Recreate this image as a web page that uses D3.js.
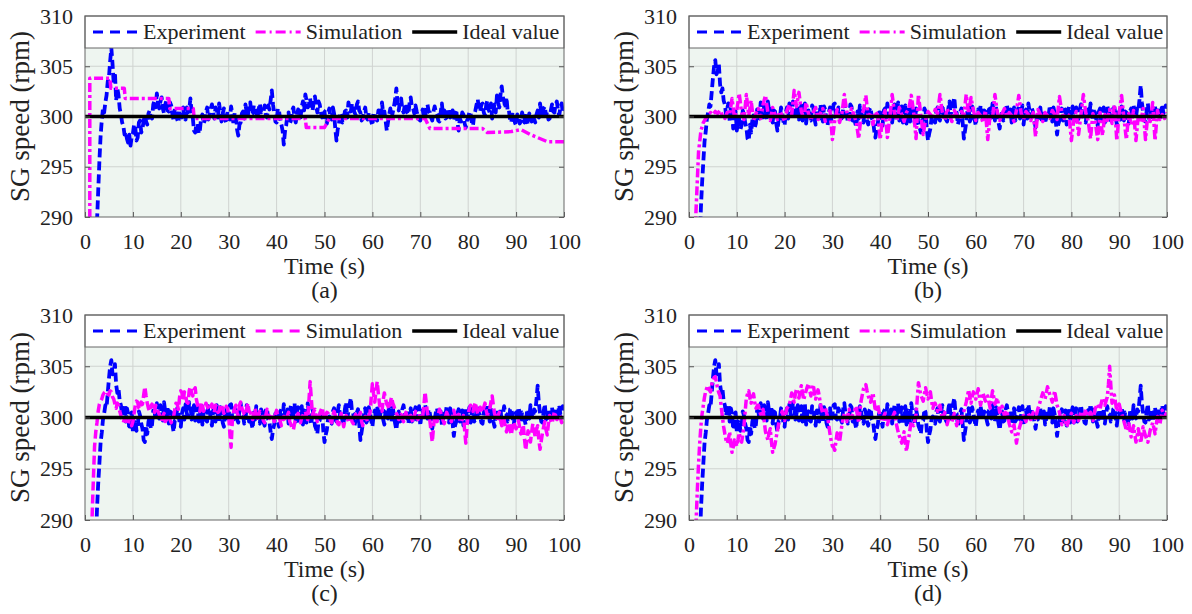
<!DOCTYPE html>
<html>
<head>
<meta charset="utf-8">
<script src="https://cdnjs.cloudflare.com/ajax/libs/d3/7.8.5/d3.min.js"></script>
<style>
body { margin: 0; background: #fff; }
text { font-family: "Liberation Serif", "Times New Roman", serif; fill: #222; }
</style>
</head>
<body>
<div id="chart"></div>
<script>
// SG speed: experiment vs simulation, four cases

// sampling of the dense series (seconds); *_mid arrays sit half a step later
var exp_start = 2, sim_start = 1, step = 0.5;

// experiment, case (a), t = 2 .. 100
var exp_a = [
	283, 289.5, 295.5, 299.6, 300.4, 302.1, 303.9, 306.8, 303.2, 301.6,
	302.1, 300.2, 299.1, 298.5, 297.4, 297.1, 298.3, 298.9, 297.9, 299.6,
	298.8, 300.1, 299.2, 300.6, 299.8, 301.6, 302.3, 300.8, 301.9, 300.3,
	301.6, 300.5, 301.1, 299.6, 300.5, 299.4, 300.3, 300.9, 299.7, 300.4,
	301.8, 299.9, 298.4, 299.3, 298.7, 300.2, 299.6, 300.9, 300.1, 301.2,
	299.8, 300.6, 301.3, 299.5, 300.8, 299.3, 300.4, 301, 299.2, 300.3,
	298.1, 299.4, 300.5, 301.2, 300.1, 301.4, 300.3, 300.9, 299.8, 301.3,
	300.5, 301.1, 299.9, 300.7, 302.6, 300.3, 299.4, 300.6, 299.2, 297.2,
	299.1, 300.4, 299.6, 300.9, 299.4, 300.7, 299.9, 301.5, 302.2, 300.9,
	301.8, 300.6, 302, 300.4, 301.2, 299.9, 300.5, 299.3, 300.8, 299.7,
	300.3, 297.6, 299.2, 300.1, 299.5, 300.6, 301.4, 300.5, 301, 300.2,
	301.5, 300.4, 299.8, 300.9, 299.7, 300.3, 299.1, 300.2, 299.6, 300.4,
	301.4, 300.5, 298.6, 300.2, 299.9, 301, 302.8, 300.6, 301.8, 300.4,
	301.3, 300.2, 301.9, 300.8, 301.1, 300, 299.6, 300.7, 299.8, 301.2,
	300.4, 299.6, 301, 300.2, 299.5, 301.3, 300.6, 299.9, 300.8, 300.1,
	299.6, 300.7, 298.6, 299.5, 300.2, 298.9, 299.8, 300.3, 299.1, 300.6,
	301.7, 300.5, 301.3, 300.1, 301.6, 300.4, 299.8, 301.2, 302.1, 300.9,
	303, 301.5, 301.9, 300.6, 299.4, 300.2, 299.1, 300, 299.5, 299.9,
	300.4, 299.2, 299.8, 300.3, 299.4, 300.6, 301.3, 300.2, 301, 300.5,
	299.8, 301.2, 300.4, 301.5, 300.1, 301.3, 300.8
];
var exp_a_mid = [
	286, 292.5, 298, 300.8, 301.4, 303.5, 305.5, 305.2, 304.4, 302.8,
	300.8, 299.4, 298.2, 297.8, 298.2, 298, 299.2, 297.6, 299.4, 298.4,
	299.6, 299.5, 300.3, 299.9, 301.2, 300.9, 301.3, 301.5, 300.8, 301.2,
	300.6, 301.4, 300.2, 300.8, 299.7, 300.6, 299.9, 299.8, 300.9, 300.6,
	300.5, 298.6, 299.2, 298.3, 299.9, 299.3, 300.5, 299.7, 300.8, 300.5,
	300.9, 299.9, 300.4, 300.3, 299.7, 300.5, 299.7, 300.3, 300.4, 298.7,
	299.2, 300.3, 299.8, 300.4, 300.9, 300.2, 301.1, 300.4, 300.7, 300.4,
	300.4, 300.2, 301.1, 301.6, 301.2, 299.5, 300.8, 299.7, 298.6, 298.5,
	300.2, 299.3, 300.6, 299.8, 300.2, 300.4, 301, 300.6, 301.6, 301.3,
	300.7, 301.4, 301.1, 301.5, 300.4, 300.6, 299.4, 300.4, 299.8, 300.9,
	298.8, 298.7, 300.4, 299.4, 300.5, 299.9, 300.7, 301.3, 300.4, 301.2,
	300.6, 299.6, 300.5, 299.9, 300.4, 299.5, 300.4, 299.7, 300.6, 299.8,
	300.3, 299.6, 299.4, 300.8, 300.4, 301.7, 301.3, 301.5, 300.7, 301.1,
	300.4, 301.3, 300.9, 300.3, 300.5, 299.7, 300.3, 299.9, 300.9, 300.5,
	299.9, 300.5, 300.4, 299.6, 300.4, 300.1, 299.8, 300.7, 299.9, 300.6,
	300.3, 299.4, 299.8, 300.4, 299.3, 299.6, 300.5, 299.4, 300.2, 301.2,
	300.6, 301.2, 300.4, 301.1, 300.7, 301.3, 300.6, 300.4, 301.4, 302.2,
	301.9, 300.8, 300.5, 299.6, 300.4, 299.4, 300.2, 299.3, 300.4, 299.4,
	299.6, 300.3, 299.5, 299.8, 300.2, 299.9, 300.4, 300.8, 300.1, 299.7,
	300.6, 300.5, 301.2, 300.6, 300.9, 300.4
];

// experiment, cases (b) (c) (d) share the same run, t = 2 .. 100
var exp_bcd = [
	284, 291, 295.5, 298.5, 300.4, 301, 303.8, 305.6, 304.5, 303.2,
	302.8, 301.2, 300.8, 299.6, 300.4, 299.2, 298.6, 299.8, 299.1, 300.2,
	298.9, 297.6, 298.4, 300.1, 299.3, 300.6, 301.4, 299.9, 300.8, 301.5,
	300.2, 299.4, 300.5, 298.6, 299.8, 300.3, 299.1, 300.9, 301.3, 300.1,
	301.4, 300.4, 299.7, 301.1, 300.2, 299.3, 300.6, 299.6, 300.9, 299.2,
	300.4, 301.2, 299.5, 300.7, 299.1, 300.9, 300.3, 301.3, 299.8, 300.6,
	299.5, 301.4, 300.2, 299.7, 301, 300.1, 298.9, 299.8, 300.7, 299.4,
	300.5, 299.2, 300.9, 299.6, 297.9, 299.3, 300.4, 299.1, 300.8, 301.3,
	300, 299.4, 301.2, 300.3, 299.6, 301, 300.2, 299.3, 300.6, 301.4,
	299.9, 300.8, 299.2, 298.4, 299.7, 300.5, 297.6, 298.8, 300.1, 299.4,
	300.9, 299.6, 301.2, 300.3, 299.5, 301.5, 300.6, 301.9, 300.4, 299.7,
	300.8, 297.8, 299.4, 300.9, 299.8, 300.4, 299.1, 300.7, 301.1, 299.9,
	300.5, 299.3, 300.8, 301.3, 299.6, 300.2, 298.8, 300.6, 299.7, 301.2,
	300, 299.4, 300.9, 299.8, 301, 300.3, 299.2, 300.7, 301.3, 299.9,
	300.4, 298.9, 299.8, 300.9, 300.1, 299.3, 300.6, 301.1, 299.5, 300.3,
	298.2, 299.6, 300.8, 300, 299.2, 301, 300.4, 299.5, 300.9, 299.8,
	301.2, 300.1, 299.4, 300.7, 301.3, 299.6, 300.2, 299.1, 300.8, 300,
	299.4, 301.1, 300.3, 299.7, 300.9, 299.2, 300.5, 301, 299.6, 300.4,
	299.3, 300.8, 301.2, 299.9, 300.6, 303.1, 300.4, 299.5, 301.3, 300.2,
	299.6, 301, 300.3, 299.7, 301.2, 300.5, 300.9
];
var exp_bcd_mid = [
	287.5, 293.5, 297.5, 299.8, 301.2, 302.4, 305, 304.2, 305.2, 302.4,
	301.6, 300.2, 301.3, 300.9, 298.8, 300.5, 299.6, 298.7, 300.6, 299.4,
	297.8, 299.2, 299.6, 298.9, 300.7, 299.8, 300.4, 301.2, 299.7, 300.6,
	301.1, 300.6, 299.3, 299.7, 300.9, 299.5, 300.4, 299.8, 300.4, 301.5,
	299.8, 301.2, 300.5, 299.6, 301.3, 300.4, 299.7, 301.1, 299.8, 300.7,
	299.6, 300.2, 301, 299.5, 300.4, 299.7, 301.2, 299.9, 300.9, 299.8,
	300.8, 300.3, 299.4, 301.2, 299.6, 299.4, 300.5, 301.1, 299.6, 300.8,
	299.6, 300.7, 299.8, 298.6, 298.8, 300.4, 299.7, 300.6, 299.9, 300.4,
	300.8, 300.5, 299.9, 301.4, 300.5, 299.4, 301.1, 300.7, 299.5, 300.4,
	299.3, 300.2, 298.9, 299.6, 300.8, 298.7, 298.3, 299.9, 299.5, 300.6,
	299.8, 300.6, 300.1, 299.7, 300.8, 299.9, 301.3, 300.5, 299.2, 300.5,
	299.4, 298.6, 300.6, 299.5, 301, 299.7, 300.2, 299.8, 300.4, 300.6,
	299.8, 300.7, 299.9, 300.4, 301, 299.4, 299.8, 299.6, 300.8, 300.4,
	300.7, 300.2, 299.6, 300.6, 299.8, 301.1, 300.4, 299.8, 300.5, 300.8,
	299.6, 299.8, 300.5, 299.7, 300.6, 299.9, 300.2, 300.5, 300.9, 299.4,
	299.2, 300.4, 299.6, 300.7, 300.3, 299.5, 301, 300.3, 299.6, 300.7,
	300.4, 299.5, 300.5, 300.1, 300.4, 300.8, 299.6, 300.5, 299.6, 300.9,
	300.3, 300.4, 299.6, 300.8, 300.1, 300.3, 299.7, 300.4, 300.5, 299.8,
	300.5, 299.9, 300.3, 300.8, 301.7, 301.4, 299.6, 300.6, 299.8, 300.8,
	300.4, 299.8, 300.9, 300.4, 300.3, 301.1
];

// simulation (a) is a staircase, so it keeps its own time stamps
var sim_a_time = [0, 1.0, 1.0, 5.2, 5.4, 8.2, 8.4, 17.5, 17.7, 22.6, 22.8, 46, 46.2, 50, 51, 71, 72, 83, 84, 89, 91, 93, 96.5, 100];
var sim_a = [285, 285, 303.8, 303.8, 302.8, 302.8, 301.8, 301.8, 300.8, 300.8, 299.8, 299.8, 298.9, 298.9, 299.8, 299.8, 298.8, 298.8, 298.4, 298.5, 298.7, 298.2, 297.5, 297.5];

// simulation (b), t = 1 .. 100
var sim_b = [
	285, 291, 296.5, 298.6, 299.4, 299.8, 300.1, 300.4, 300.2, 300.5,
	300.3, 300.6, 300.1, 299.8, 300.4, 300.2, 301.8, 299.9, 300.6, 302.3,
	300.4, 299.7, 302.2, 300.1, 301.6, 299.6, 300.3, 300.8, 299.8, 301.2,
	302.1, 300.4, 299.6, 300.9, 300.2, 299.7, 300.5, 300.1, 299.5, 300.6,
	301.2, 300.2, 302.6, 301, 302.4, 300.5, 299.8, 301.4, 300.3, 299.6,
	300.4, 300.9, 299.7, 300.3, 300.8, 299.5, 300.2, 300.6, 297.7, 299.6,
	300.7, 299.4, 300.3, 302.2, 300.5, 299.7, 300.8, 300.2, 299.4, 297.8,
	300.1, 300.6, 302.1, 299.9, 300.4, 299.2, 300.5, 300.1, 297.7, 299.8,
	300.6, 297.9, 299.8, 302.2, 300.3, 299.6, 300.9, 300.2, 299.5, 300.4,
	300.8, 302.1, 300.4, 297.8, 302.2, 300.1, 298.2, 299.7, 300.5, 300.2,
	299.8, 300.7, 300.3, 302.2, 300.4, 299.6, 300.8, 300.1, 299.5, 300.6,
	300.2, 299.7, 300.5, 300.1, 302.2, 300.3, 301.9, 300.6, 299.6, 300.4,
	300.1, 299.4, 300.6, 297.7, 300.2, 299.8, 302.2, 300.4, 299.6, 300.3,
	300.8, 299.9, 300.4, 300.1, 299.5, 300.6, 302.1, 300.3, 299.7, 300.5,
	300.2, 299.6, 300.4, 298, 300.7, 300.2, 299.5, 300.4, 300.1, 299.8,
	300.6, 300.2, 299.7, 302, 300.4, 299.8, 300.3, 300.1, 297.6, 299.7,
	300.5, 298.2, 300.2, 302.2, 300.4, 299.6, 297.8, 300.3, 299.4, 297.7,
	300.4, 298.1, 300.2, 299.6, 300.7, 299.3, 301.2, 297.6, 300.4, 302.1,
	299.8, 297.7, 300.3, 299.2, 300.6, 297.6, 300.1, 299.4, 300.8, 297.7,
	300.3, 299.5, 301.4, 297.6, 300.6, 299.7, 300.2, 299.8, 300.4
];

// simulation (c), t = 1 .. 100
var sim_c = [
	284, 290.5, 297.2, 299.5, 301.3, 301.8, 302.4, 302.6, 302.2, 302.5,
	301.8, 300.9, 301.2, 300.2, 299.5, 299.8, 299.3, 300, 299.6, 301.2,
	301.5, 300.8, 301.3, 303, 301.4, 300.6, 301.3, 300.5, 301, 300.3,
	299.6, 300.4, 299.8, 300.2, 299.5, 300.1, 301.4, 300.8, 302.6, 301.6,
	302.2, 301.4, 303, 302.1, 302.9, 301.2, 300.6, 301.3, 300.8, 301.1,
	300.7, 301.3, 300.5, 301, 300.6, 301.2, 300.4, 301.1, 300.2, 297.1,
	300.5, 301.2, 300.1, 301.5, 300.6, 300.2, 301.4, 300.5, 299.8, 300.9,
	299.7, 300.6, 300.1, 299.5, 300.8, 299.9, 300.4, 299.6, 300.7, 300.1,
	299.2, 300.1, 299.6, 300.5, 299.3, 298.8, 299.9, 300.4, 299.5, 300.2,
	300.6, 299.8, 303.5, 300.2, 300.8, 299.6, 300.3, 301, 299.7, 300.5,
	300.1, 299.5, 300.6, 299.9, 299.3, 300.4, 299.1, 300.2, 299.6, 300,
	299.4, 300.3, 299.7, 300.5, 299.2, 300.1, 299.6, 300.4, 303.3, 301.5,
	303.5, 301.2, 300.6, 302.4, 301.3, 300.8, 302, 301.1, 300.4, 299.8,
	300.3, 299.6, 300.5, 299.9, 300.2, 299.5, 300.6, 299.8, 300.3, 300.1,
	302.5, 300.4, 299.7, 297.6, 300.2, 299.6, 300.8, 300.1, 299.4, 300.5,
	300, 299.6, 300.7, 299.8, 300.3, 299.5, 300.2, 297.5, 300.4, 301.2,
	300.6, 301.5, 300.3, 301, 300.5, 301.4, 300.2, 300.8, 302.1, 300.4,
	299.7, 300.5, 299.2, 299.8, 298.6, 299.5, 298.3, 299.6, 298.9, 299.7,
	298.4, 299.3, 296.8, 298.7, 297.6, 299.4, 298.1, 299.2, 296.9, 298.5,
	299.6, 298.3, 300.2, 299.4, 300.6, 299.8, 300.3, 299.5, 300.1
];
var sim_c_mid = [
	287, 294, 298.6, 300.6, 301.6, 302.2, 302.5, 302.3, 302.6, 302,
	301.3, 301.4, 300.6, 299.7, 299.9, 299.4, 299.8, 299.2, 300.4, 301.6,
	300.9, 301.5, 302.2, 302.1, 300.9, 301.1, 300.7, 301.2, 300.6, 299.8,
	300.1, 299.6, 300.3, 299.8, 299.9, 300.8, 301.3, 302, 302.4, 302.5,
	301.5, 302.6, 302.4, 302.7, 301.8, 300.9, 301.5, 300.6, 301.4, 300.9,
	301.1, 300.7, 301.2, 300.5, 301.3, 300.8, 300.6, 300.9, 298.4, 299.6,
	300.9, 300.5, 301.2, 300.9, 300.3, 300.9, 300.6, 300.2, 300.5, 300.1,
	300.3, 300.4, 299.7, 300.2, 300.4, 300.2, 300.1, 300.3, 300.2, 299.6,
	299.7, 299.8, 300.2, 299.6, 298.9, 299.4, 300.2, 299.8, 300, 300.5,
	300.1, 301.6, 301.8, 300.6, 300.1, 300.1, 300.7, 300.3, 300.2, 300.4,
	299.7, 300.2, 300.2, 299.4, 299.9, 299.7, 299.7, 300, 299.8, 299.6,
	300, 299.9, 300.2, 299.6, 299.8, 299.9, 300.2, 301.9, 302.3, 302.6,
	302.3, 300.8, 301.7, 301.8, 301.1, 301.5, 301.4, 300.7, 300.2, 300.1,
	299.9, 300.2, 300.1, 300.1, 299.8, 300.1, 300.2, 300.1, 300.2, 301.2,
	301.4, 300, 298.6, 299, 299.8, 300.3, 300.5, 299.7, 300, 300.2,
	299.8, 300.2, 300.2, 300.1, 299.8, 299.8, 298.8, 299.1, 300.9, 300.8,
	301.1, 300.8, 300.7, 300.7, 301, 300.7, 300.6, 301.5, 301.2, 300,
	300.2, 299.8, 299.6, 299.1, 299.2, 298.8, 299.1, 299.2, 299.3, 299,
	298.9, 297.9, 297.8, 298.2, 298.6, 298.7, 298.8, 297.8, 297.7, 299.1,
	298.8, 299.4, 299.7, 300, 300.2, 299.9, 300, 299.8
];

// simulation (d), t = 1 .. 100
var sim_d = [
	284, 290, 295.5, 299.2, 301.2, 302.6, 303.1, 302.5, 303.6, 304,
	302.8, 302.1, 300, 298.4, 297.5, 298.6, 296.6, 297.8, 297.2, 298.5,
	297.6, 299.2, 301.9, 302.6, 301.4, 302.3, 300.9, 301.2, 300.3, 300.8,
	298.6, 297.8, 298.9, 296.6, 297.4, 298.7, 299.8, 300.6, 299.7, 300.9,
	301.2, 302.4, 301.5, 302.8, 301.9, 303.1, 301.7, 302.6, 303.3, 302.1,
	303.2, 301.8, 302.7, 301.3, 300.4, 301, 300.1, 298.4, 297.2, 296.8,
	298.5, 297.6, 299.3, 300.4, 299.6, 300.8, 299.9, 300.6, 301.1, 299.5,
	301.6, 302.8, 303.2, 302.1, 301.5, 302.4, 300.6, 301.2, 300.1, 299.6,
	300.4, 299.3, 300.2, 299.7, 300.5, 299.1, 298.2, 297.5, 298.6, 296.7,
	298.1, 299.6, 299.2, 300.3, 303.4, 302.2, 301.6, 302.9, 301.8, 302.5,
	300.9, 301.4, 300.6, 301.2, 299.8, 300.5, 299.3, 300.2, 299.6, 300.4,
	299.2, 300.1, 299.5, 300.6, 301.5, 302.7, 301.4, 302.5, 301.8, 302.8,
	301.2, 302.4, 301.6, 302.1, 300.9, 302.6, 301.3, 301.9, 300.5, 301.1,
	300.2, 300.7, 299.4, 298.6, 299.3, 297.5, 298.8, 299.6, 300.2, 299.6,
	300.4, 299.8, 300.5, 299.9, 300.9, 301.6, 302.4, 301.8, 303, 302.2,
	301.5, 302.6, 301.2, 300.5, 299.3, 300.2, 299.1, 299.8, 300.4, 299.5,
	300.2, 299.7, 300.6, 299.9, 300.8, 300.1, 300.5, 299.7, 300.9, 301.3,
	300.8, 301.9, 301.2, 302, 305, 301.4, 302.2, 300.6, 301.3, 300.4,
	299.6, 298.7, 299.4, 298.1, 299.2, 297.6, 298.9, 297.5, 299.1, 298.2,
	297.6, 298.8, 299.5, 298.4, 300.1, 299.3, 300.7, 300.2, 300.5
];
var sim_d_mid = [
	287, 293, 297.6, 300.4, 302, 302.9, 302.7, 303.2, 303.9, 303.4,
	302.4, 301, 299.1, 297.8, 297.9, 297.4, 297.1, 297.6, 297.8, 298,
	298.3, 300.6, 302.3, 301.9, 302, 301.5, 301.1, 300.7, 300.6, 299.6,
	298.2, 298.5, 297.6, 297, 298.1, 299.4, 300.2, 300.1, 300.4, 301.1,
	301.8, 301.9, 302.3, 302.4, 302.6, 302.4, 302.2, 303, 302.7, 302.7,
	302.4, 302.3, 302.1, 300.8, 300.7, 300.5, 299.2, 297.7, 297.1, 297.7,
	298.1, 298.5, 299.9, 299.9, 300.3, 300.3, 300.3, 300.8, 300.2, 300.6,
	302.2, 303, 302.6, 301.8, 302, 301.5, 300.9, 300.6, 299.8, 300.1,
	299.8, 299.7, 300, 300.2, 299.7, 298.6, 297.9, 298.1, 297.6, 297.5,
	298.9, 299.3, 299.8, 301.8, 302.8, 301.9, 302.3, 302.3, 302.2, 301.6,
	301.2, 301, 300.9, 300.5, 300.1, 299.9, 299.8, 299.9, 300, 299.8,
	299.7, 299.8, 300.1, 301, 302.1, 302, 302, 302.1, 302.3, 302,
	301.8, 302, 301.8, 301.5, 301.8, 302, 301.6, 301.2, 300.8, 300.6,
	300.5, 300, 299, 298.9, 298.4, 298.2, 299.2, 299.9, 299.9, 300,
	300.1, 300.1, 300.2, 300.4, 301.2, 302, 302.1, 302.4, 302.6, 301.9,
	302, 301.9, 300.9, 299.9, 299.8, 299.6, 299.4, 300.1, 300, 299.9,
	299.9, 300.1, 300.2, 300.3, 300.4, 300.3, 300.1, 300.3, 301.1, 301,
	301.4, 301.5, 301.6, 303.2, 303.1, 301.8, 301.4, 301, 300.8, 300,
	299.2, 299, 298.8, 298.6, 298.4, 298.2, 298.2, 298.3, 298.6, 297.9,
	298.2, 299.1, 299, 299.3, 299.7, 300, 300.4, 300.3
];

var ideal_value = 300;
var x_ticks = [0, 10, 20, 30, 40, 50, 60, 70, 80, 90, 100];
var y_ticks = [290, 295, 300, 305, 310];
var legend_labels = ['Experiment', 'Simulation', 'Ideal value'];
var panel_labels = ['(a)', '(b)', '(c)', '(d)'];

var width = 1192, height = 614;

var blue = '#0000ff', magenta = '#ff00ff';
var dash = '10,7', dash_dot = '10,4,2,4';
// data lines use a tighter pattern than the legend samples
var data_dash = '9,4', data_dash_dot = '9,3,3,3';

// merge the on-step and half-step samples into [t, v] points
function to_points(values, start, mid) {
	var pts = [];
	values.forEach(function(v, i) {
		pts.push([start + i * step, v]);
		if (mid && i < mid.length) {
			pts.push([start + i * step + step / 2, mid[i]]);
		}
	});
	return pts;
}

var panels = [
	{left: 85, right: 564, top: 16, bottom: 217,
		exp: to_points(exp_a, exp_start, exp_a_mid),
		sim: sim_a.map(function(v, i) { return [sim_a_time[i], v]; }),
		sim_dash: dash_dot, sim_data_dash: data_dash_dot},
	{left: 689, right: 1167, top: 16, bottom: 217,
		exp: to_points(exp_bcd, exp_start, exp_bcd_mid),
		sim: to_points(sim_b, sim_start), sim_dash: dash_dot, sim_data_dash: data_dash_dot},
	{left: 85, right: 564, top: 315, bottom: 520,
		exp: to_points(exp_bcd, exp_start, exp_bcd_mid),
		sim: to_points(sim_c, sim_start, sim_c_mid), sim_dash: dash, sim_data_dash: data_dash},
	{left: 689, right: 1167, top: 315, bottom: 520,
		exp: to_points(exp_bcd, exp_start, exp_bcd_mid),
		sim: to_points(sim_d, sim_start, sim_d_mid), sim_dash: dash_dot, sim_data_dash: data_dash_dot}
];

var svg = d3.select('#chart')
	.append('svg')
	.attr('width', width)
	.attr('height', height);

function draw_panel(p, k) {
	var w = p.right - p.left, h = p.bottom - p.top;
	var x = d3.scaleLinear().domain([0, 100]).range([0, w]);
	var y = d3.scaleLinear().domain([290, 310]).range([h, 0]);

	var g = svg.append('g')
		.attr('transform', 'translate(' + p.left + ',' + p.top + ')');

	g.append('rect')
		.attr('width', w)
		.attr('height', h)
		.attr('fill', '#eef5f0');

	// grid
	g.selectAll('.vgrid')
		.data(x_ticks.slice(1, -1))
		.enter().append('line')
		.attr('x1', function(d) { return x(d); })
		.attr('x2', function(d) { return x(d); })
		.attr('y1', 0).attr('y2', h)
		.attr('stroke', '#cfd3d0').attr('stroke-width', 1);

	g.selectAll('.hgrid')
		.data(y_ticks.slice(1, -1))
		.enter().append('line')
		.attr('x1', 0).attr('x2', w)
		.attr('y1', function(d) { return y(d); })
		.attr('y2', function(d) { return y(d); })
		.attr('stroke', '#cfd3d0').attr('stroke-width', 1);

	var clip_id = 'clip' + k;
	g.append('clipPath').attr('id', clip_id)
		.append('rect').attr('width', w).attr('height', h);

	var line = d3.line()
		.x(function(d) { return x(d[0]); })
		.y(function(d) { return y(d[1]); });

	var plot = g.append('g').attr('clip-path', 'url(#' + clip_id + ')');

	plot.append('path')
		.datum(p.exp)
		.attr('d', line)
		.attr('fill', 'none')
		.attr('stroke', blue)
		.attr('stroke-width', 3.8)
		.attr('stroke-linejoin', 'round')
		.attr('stroke-dasharray', data_dash);

	plot.append('path')
		.datum(p.sim)
		.attr('d', line)
		.attr('fill', 'none')
		.attr('stroke', magenta)
		.attr('stroke-width', 3.5)
		.attr('stroke-linejoin', 'round')
		.attr('stroke-dasharray', p.sim_data_dash);

	plot.append('line')
		.attr('x1', x(0)).attr('x2', x(100))
		.attr('y1', y(ideal_value)).attr('y2', y(ideal_value))
		.attr('stroke', '#000')
		.attr('stroke-width', 3.5);

	// axes, ticks pointing inward
	var ax_left = g.append('g')
		.call(d3.axisLeft(y).tickValues(y_ticks).tickSize(-5).tickPadding(12));
	var ax_right = g.append('g')
		.attr('transform', 'translate(' + w + ',0)')
		.call(d3.axisRight(y).tickValues(y_ticks).tickSize(-5).tickFormat(''));
	var ax_bottom = g.append('g')
		.attr('transform', 'translate(0,' + h + ')')
		.call(d3.axisBottom(x).tickValues(x_ticks).tickSize(-5).tickPadding(16));

	[ax_left, ax_right, ax_bottom].forEach(function(a) {
		a.select('.domain').remove();
		a.selectAll('line').attr('stroke', '#555');
		a.selectAll('text')
			.attr('font-family', '"Liberation Serif", serif')
			.attr('font-size', 22)
			.attr('fill', '#222');
	});

	// legend strip across the top
	var leg_h = 32;
	g.append('rect')
		.attr('width', w)
		.attr('height', leg_h)
		.attr('fill', '#fff')
		.attr('stroke', '#666')
		.attr('stroke-width', 1);

	var leg_styles = [
		{color: blue, dash: dash, width: 3},
		{color: magenta, dash: p.sim_dash, width: 3},
		{color: '#000', dash: null, width: 3.5}
	];
	var leg_x = 8;
	legend_labels.forEach(function(label, i) {
		g.append('line')
			.attr('x1', leg_x).attr('x2', leg_x + 45)
			.attr('y1', leg_h / 2).attr('y2', leg_h / 2)
			.attr('stroke', leg_styles[i].color)
			.attr('stroke-width', leg_styles[i].width)
			.attr('stroke-dasharray', leg_styles[i].dash);
		var t = g.append('text')
			.attr('x', leg_x + 50)
			.attr('y', leg_h / 2 + 7)
			.attr('font-size', 22)
			.text(label);
		leg_x += 50 + t.node().getComputedTextLength() + 10;
	});

	g.append('rect')
		.attr('width', w)
		.attr('height', h)
		.attr('fill', 'none')
		.attr('stroke', '#666')
		.attr('stroke-width', 1);

	// labels
	g.append('text')
		.attr('x', w / 2)
		.attr('y', h + 57)
		.attr('text-anchor', 'middle')
		.attr('font-size', 24)
		.text('Time (s)');

	g.append('text')
		.attr('x', w / 2)
		.attr('y', h + 81)
		.attr('text-anchor', 'middle')
		.attr('font-size', 24)
		.text(panel_labels[k]);

	g.append('text')
		.attr('transform', 'rotate(-90)')
		.attr('x', -h / 2)
		.attr('y', -56)
		.attr('text-anchor', 'middle')
		.attr('font-size', 27)
		.text('SG speed (rpm)');
}

panels.forEach(draw_panel);
</script>
</body>
</html>
